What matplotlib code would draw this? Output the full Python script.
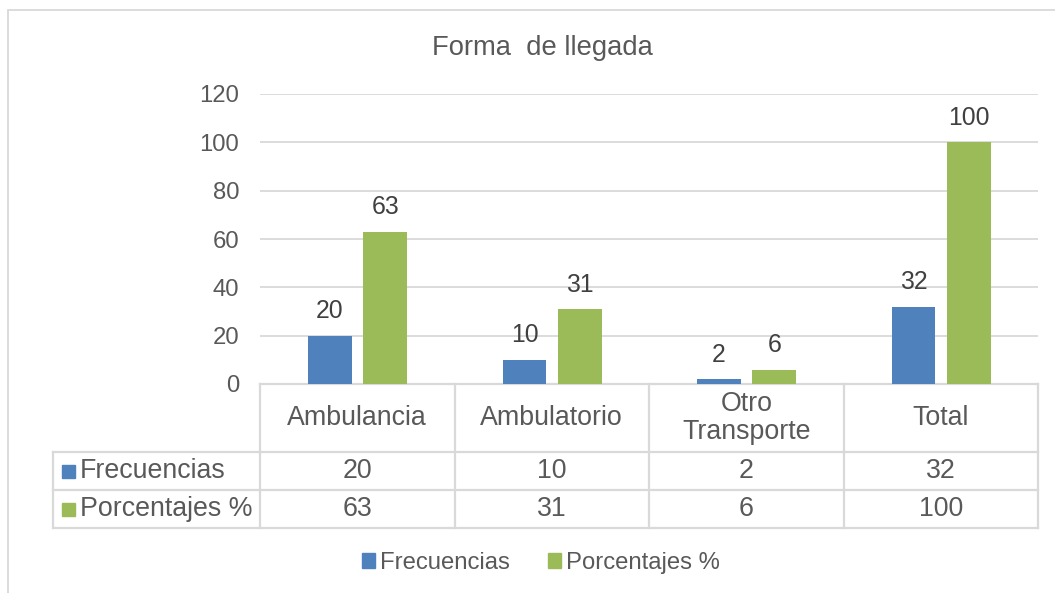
import matplotlib.pyplot as plt
from matplotlib.patches import Rectangle
from matplotlib.transforms import blended_transform_factory

plt.rcParams['font.family'] = ['Liberation Sans', 'DejaVu Sans']

categories = ['Ambulancia', 'Ambulatorio', 'Otro\nTransporte', 'Total']
frecuencias = [20, 10, 2, 32]
porcentajes = [63, 31, 6, 100]
series_names = ['Frecuencias', 'Porcentajes %']
yticks = [0, 20, 40, 60, 80, 100, 120]

blue = '#4f81bd'
green = '#9bbb59'
txt = '#595959'
grid = '#d9d9d9'
fs_tick = 17.2
fs_lab = 17.8
fs_tab = 19.3
fs_title = 19.7
fs_leg = 17.2

W, H = 1055, 593
fig = plt.figure(figsize=(W / 100, H / 100), dpi=100)

# plot area in pixels
x0, x1, ytop, ybot = 260, 1038, 94, 384
ax = fig.add_axes([x0 / W, 1 - ybot / H, (x1 - x0) / W, (ybot - ytop) / H])

# chart frame (cropped at right / bottom)
fig.patches.append(Rectangle((8 / W, -0.1), 1.2, 1 - 10 / H + 0.1, transform=fig.transFigure,
                             fill=False, edgecolor=grid, linewidth=1.3))

n = len(categories)
xs = list(range(n))
bw = 0.226
b1 = ax.bar([x - 0.14 for x in xs], frecuencias, bw, color=blue, zorder=3)
b2 = ax.bar([x + 0.144 for x in xs], porcentajes, bw, color=green, zorder=3)

for bars, vals in ((b1, frecuencias), (b2, porcentajes)):
    for b, v in zip(bars, vals):
        ax.annotate(str(v), (b.get_x() + b.get_width() / 2, v), xytext=(0, 9),
                    textcoords='offset points', ha='center', va='bottom',
                    fontsize=fs_lab, color='#404040')

ax.set_xlim(-0.5, n - 0.5)
ax.set_ylim(0, 120)
ax.set_yticks(yticks)
ax.set_yticklabels([str(t) for t in yticks])
ax.tick_params(axis='y', length=0, pad=15, labelsize=fs_tick, labelcolor=txt)
ax.set_xticks([])
ax.yaxis.grid(True, color=grid, linewidth=1.3, zorder=0)
for s in ax.spines.values():
    s.set_visible(False)

fig.text(542 / W, 1 - 48 / H, 'Forma  de llegada', ha='center', va='center',
         fontsize=fs_title, color=txt)

# data table below the plot
def ay(py):
    return (ybot - py) / (ybot - ytop)

def axx(px):
    return (px - x0) / (x1 - x0)

r0, r1, r2, r3 = ay(384), ay(452), ay(490), ay(528)
xl = axx(53)
lk = dict(color=grid, linewidth=1.6, transform=ax.transAxes, clip_on=False, zorder=1)

ax.plot([0, 1], [r0, r0], **lk)
ax.plot([xl, 1], [r1, r1], **lk)
ax.plot([xl, 1], [r2, r2], **lk)
ax.plot([xl, 1], [r3, r3], **lk)
for i in range(n + 1):
    xv = i / n
    ax.plot([xv, xv], [r0, r3], **lk)
ax.plot([xl, xl], [r1, r3], **lk)

bt = blended_transform_factory(ax.transData, ax.transAxes)
for i, c in enumerate(categories):
    ax.text(i, (r0 + r1) / 2, c, ha='center', va='center', fontsize=fs_tab, color=txt,
            transform=bt, linespacing=1.12)
    ax.text(i, (r1 + r2) / 2, str(frecuencias[i]), ha='center', va='center', fontsize=fs_tab,
            color=txt, transform=bt)
    ax.text(i, (r2 + r3) / 2, str(porcentajes[i]), ha='center', va='center', fontsize=fs_tab,
            color=txt, transform=bt)

for (ya, yb), name, col in (((r1, r2), series_names[0], blue), ((r2, r3), series_names[1], green)):
    ym = (ya + yb) / 2
    ax.add_patch(Rectangle((axx(62), ym - 6.5 / 290), 13 / 778, 13 / 290, transform=ax.transAxes,
                           clip_on=False, color=col))
    ax.text(axx(80), ym, name, ha='left', va='center', fontsize=fs_tab, color=txt,
            transform=ax.transAxes)

# legend
h1 = Rectangle((0, 0), 1, 1, color=blue)
h2 = Rectangle((0, 0), 1, 1, color=green)
fig.legend([h1, h2], series_names, loc='center', bbox_to_anchor=(541 / W, 1 - 563 / H),
           ncol=2, frameon=False, fontsize=fs_leg, labelcolor=txt, handlelength=0.54,
           handleheight=0.54, handletextpad=0.2, columnspacing=1.59)

fig.savefig('out.png', dpi=100, facecolor='white')
